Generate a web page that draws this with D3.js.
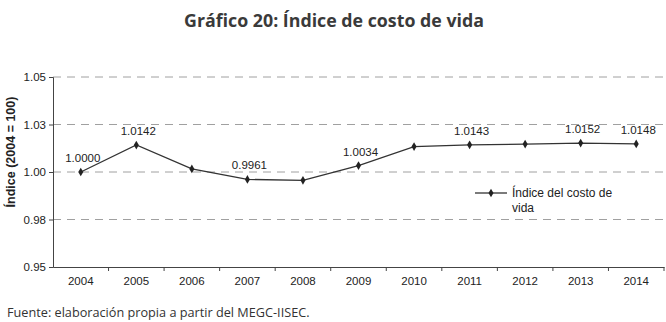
<!DOCTYPE html>
<html lang="es">
<head>
  <meta charset="UTF-8">
  <title>Índice de costo de vida</title>
  <style>
    body { margin: 0; background: #fff; }
    .title { font-family: "Open Sans", sans-serif; font-weight: 700; font-size: 17.8px; fill: #3a3a3a; }
    .axis text { font-family: "Liberation Sans", Arial, sans-serif; font-size: 11.5px; fill: #222; }
    .axis path, .axis line { stroke: #444; }
    .grid line { stroke: #a0a0a0; stroke-dasharray: 8 6; }
    .labels { font-family: "Liberation Sans", Arial, sans-serif; font-size: 11.5px; fill: #222; }
    .source { font-family: "Open Sans", sans-serif; font-size: 12.7px; fill: #333; }
  </style>
</head>
<body>
  <script src="https://d3js.org/d3.v7.min.js"></script>
  <script>
    // data
    const years = ['2004','2005','2006','2007','2008','2009','2010','2011','2012','2013','2014'];
    const values = [1.0000, 1.0142, 1.0016, 0.9961, 0.9956, 1.0034, 1.0134, 1.0143, 1.0147, 1.0152, 1.0148];
    // only some points carry a label
    const labelled = ['2004','2005','2007','2009','2011','2013','2014'];
    const yTicks = [0.95, 0.975, 1.00, 1.025, 1.05];
    const yTickLabels = ['0.95', '0.98', '1.00', '1.03', '1.05'];

    const WIDTH = 666;
    const HEIGHT = 322;
    const margin = { top: 77, right: 2, bottom: 55, left: 53 };

    const svg = d3.select('body').append('svg')
      .attr('width', WIDTH)
      .attr('height', HEIGHT);

    const x = d3.scaleBand().domain(years).range([margin.left, WIDTH - margin.right]);
    const y = d3.scaleLinear().domain([0.95, 1.05]).range([HEIGHT - margin.bottom, margin.top]);

    svg.append('text')
      .attr('class', 'title')
      .attr('x', 334)
      .attr('y', 27)
      .attr('text-anchor', 'middle')
      .text('Gráfico 20: Índice de costo de vida');

    // dashed gridlines (not at the baseline)
    svg.append('g')
      .attr('class', 'grid')
      .selectAll('line')
      .data(yTicks.slice(1))
      .enter()
      .append('line')
        .attr('x1', margin.left)
        .attr('x2', WIDTH - margin.right)
        .attr('y1', d => y(d))
        .attr('y2', d => y(d));

    const yAxis = svg.append('g')
      .attr('class', 'axis')
      .attr('transform', `translate(${margin.left},0)`)
      .call(d3.axisLeft(y).tickValues(yTicks).tickFormat((d, i) => yTickLabels[i]).tickSize(4).tickPadding(3));

    const xAxis = svg.append('g')
      .attr('class', 'axis')
      .attr('transform', `translate(0,${y(0.95)})`)
      .call(d3.axisBottom(x).tickSize(0).tickPadding(10));

    // small ticks between categories
    xAxis.selectAll('.sep')
      .data(years.slice(1).concat(['end']))
      .enter()
      .append('line')
        .attr('class', 'sep')
        .attr('x1', d => d === 'end' ? WIDTH - margin.right : x(d))
        .attr('x2', d => d === 'end' ? WIDTH - margin.right : x(d))
        .attr('y1', 0)
        .attr('y2', 4);

    svg.append('text')
      .attr('transform', `translate(15,${(margin.top + HEIGHT - margin.bottom) / 2 - 20}) rotate(-90)`)
      .attr('text-anchor', 'middle')
      .style('font-family', '"Liberation Sans", Arial, sans-serif')
      .style('font-weight', 700)
      .style('font-size', '12.5px')
      .style('fill', '#222')
      .text('Índice (2004 = 100)');

    const cx = d => x(d) + x.bandwidth() / 2;
    const line = d3.line()
      .x((d, i) => cx(years[i]))
      .y(d => y(d));

    svg.append('path')
      .datum(values)
      .attr('d', line)
      .attr('fill', 'none')
      .attr('stroke', '#333')
      .attr('stroke-width', 1.3);

    const diamond = d3.symbol().type(d3.symbolDiamond).size(22);
    svg.selectAll('.pt')
      .data(values)
      .enter()
      .append('path')
        .attr('class', 'pt')
        .attr('d', diamond)
        .attr('transform', (d, i) => `translate(${cx(years[i])},${y(d)})`)
        .attr('fill', '#222');

    svg.selectAll('.labels')
      .data(values.map((v, i) => [years[i], v]).filter(d => labelled.includes(d[0])))
      .enter()
      .append('text')
        .attr('class', 'labels')
        .attr('x', d => cx(d[0]) + 2)
        .attr('y', d => y(d[1]) - 10)
        .attr('text-anchor', 'middle')
        .text(d => d[1].toFixed(4));

    // legend
    const legend = svg.append('g').attr('transform', 'translate(475,193)');
    legend.append('line').attr('x1', 0).attr('x2', 32).attr('stroke', '#333').attr('stroke-width', 1.3);
    legend.append('path').attr('d', diamond).attr('transform', 'translate(16,0)').attr('fill', '#222');
    legend.append('text').attr('class', 'labels').style('font-size', '12px').attr('x', 37).attr('y', 4).text('Índice del costo de');
    legend.append('text').attr('class', 'labels').style('font-size', '12px').attr('x', 37).attr('y', 19).text('vida');

    svg.append('text')
      .attr('class', 'source')
      .attr('x', 7)
      .attr('y', 317)
      .text('Fuente: elaboración propia a partir del MEGC-IISEC.');
  </script>
</body>
</html>
